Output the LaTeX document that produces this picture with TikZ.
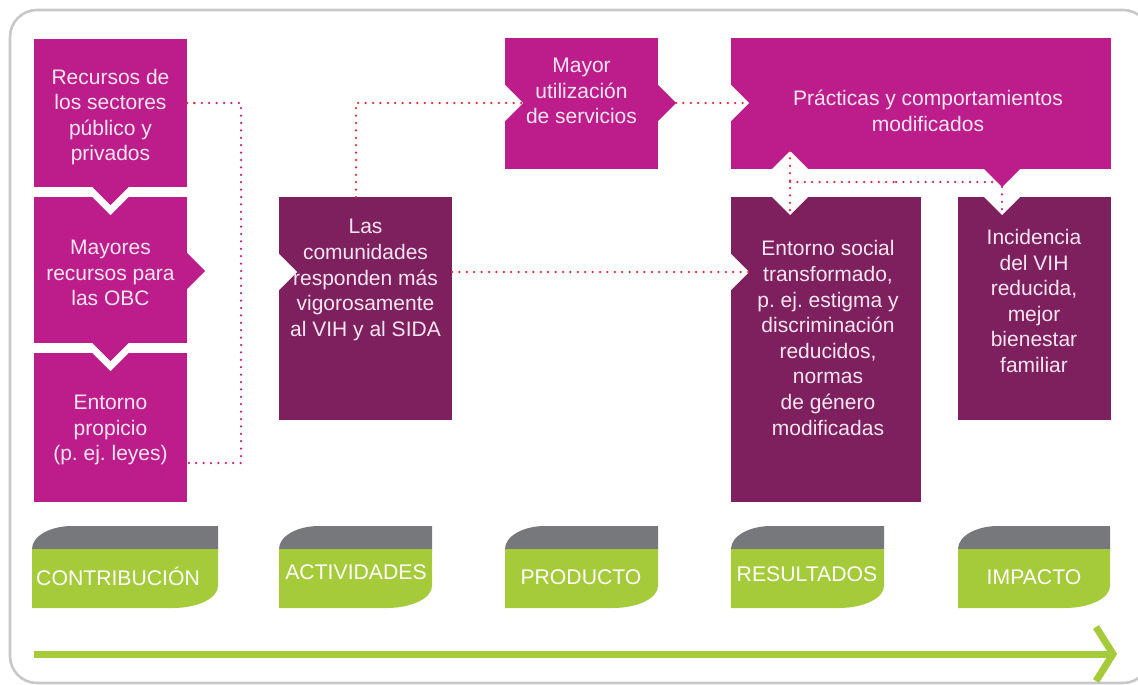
\documentclass[tikz,border=0pt]{standalone}
\usepackage{fontspec}
\usetikzlibrary{calc}
\setmainfont{Liberation Sans}
\frenchspacing
\definecolor{mag}{RGB}{188,29,139}
\definecolor{plum}{RGB}{126,31,94}
\definecolor{lime}{RGB}{166,203,58}
\definecolor{slate}{RGB}{119,120,123}
\definecolor{framec}{RGB}{200,200,200}
\definecolor{dotred}{RGB}{232,36,52}
\definecolor{dotmag}{RGB}{200,30,130}
\definecolor{txt}{RGB}{250,230,242}
\begin{document}
\begin{tikzpicture}[x=1pt,y=-1pt,
  boxm/.style={fill=mag,draw=none,inner sep=0pt,anchor=north west},
  boxp/.style={fill=plum,draw=none,inner sep=0pt,anchor=north west},
  lbl/.style={text=txt,align=center,inner sep=0pt,font=\fontsize{21}{25.6}\selectfont},
  tablbl/.style={text=white,inner sep=0pt,font=\fontsize{21.2}{24}\selectfont},
  dotline/.style={line width=2.5pt,line cap=round,dash pattern=on 0pt off 7.4pt}]
\useasboundingbox (0,0) rectangle (1138,685);

% outer frame
\draw[framec,line width=2.6pt,rounded corners=27pt] (10,10) rectangle (1150,683);

% boxes
\node[boxm,minimum width=153pt,minimum height=148pt] (A) at (34,39) {};
\node[boxm,minimum width=153pt,minimum height=146pt] (B) at (34,197) {};
\node[boxm,minimum width=153pt,minimum height=149pt] (C) at (34,353) {};
\node[boxp,minimum width=173pt,minimum height=223pt] (D) at (279,197) {};
\node[boxm,minimum width=153pt,minimum height=131pt] (E) at (505,38) {};
\node[boxm,minimum width=380pt,minimum height=131pt] (F) at (731,38) {};
\node[boxp,minimum width=190pt,minimum height=305pt] (G) at (731,197) {};
\node[boxp,minimum width=153pt,minimum height=223pt] (H) at (958,197) {};

% notches cut into the boxes
\fill[white] (92.5,197) -- (110.5,215) -- (128.5,197) -- cycle;
\fill[white] (92.5,353) -- (110.5,371) -- (128.5,353) -- cycle;
\fill[white] (279,254) -- (297,272) -- (279,290) -- cycle;
\fill[white] (505,85) -- (523,103) -- (505,121) -- cycle;
\fill[white] (731,85) -- (749,103) -- (731,121) -- cycle;
\fill[white] (772,169) -- (790,151) -- (808,169) -- cycle;
\fill[white] (772,197) -- (790,215) -- (808,197) -- cycle;
\fill[white] (731,254) -- (749,272) -- (731,290) -- cycle;
\fill[white] (984,197) -- (1002,215) -- (1020,197) -- cycle;

% pointers
\fill[mag] (92.5,187) -- (110.5,205) -- (128.5,187) -- cycle;
\fill[mag] (92.5,343) -- (110.5,361) -- (128.5,343) -- cycle;
\fill[mag] (187,253) -- (205,271) -- (187,289) -- cycle;
\fill[mag] (658,85) -- (676,103) -- (658,121) -- cycle;
\fill[mag] (984,169) -- (1002,187) -- (1020,169) -- cycle;

% connector points
\coordinate (a1) at (187,103);
\coordinate (a2) at (241,103);
\coordinate (a3) at (241,463);
\coordinate (a4) at (187,463);
\coordinate (d1) at (356,197);
\coordinate (d2) at (356,103);
\coordinate (e1) at (523,103);
\coordinate (e2) at (676,103);
\coordinate (f1) at (749,103);
\coordinate (d3) at (452,272);
\coordinate (g1) at (749,272);
\coordinate (f2) at (790,151);
\coordinate (g2) at (790,215);
\coordinate (m1) at (790,182);
\coordinate (m2) at (896,182);
\coordinate (m3) at (1002,182);
\coordinate (f3) at (1002,187);
\coordinate (h1) at (1002,215);

% dotted connectors
\draw[dotline,dotmag] (a1) -- (a2) -- (a3) -- (a4);
\draw[dotline,dotred] (a1) -- ($(a1)!0.2!(a2)$);
\draw[dotline,dotred] (d1) -- (d2) -- (e1);
\draw[dotline,dotred] (e2) -- (f1);
\draw[dotline,dotred] (d3) -- (g1);
\draw[dotline,dotred] (f2) -- (g2);
\draw[dotline,dotred] (m1) -- (m2);
\draw[dotline,dotmag] (m2) -- (m3);
\draw[dotline,dotmag] (f3) -- (h1);

% box texts
\node[lbl] (tA) at (110.5,117) {Recursos de\\los sectores\\público y\\privados};
\node[lbl] (tB) at (110.5,273) {Mayores\\recursos para\\las OBC};
\node[lbl] (tC) at (110.5,430) {Entorno\\propicio\\(p. ej. leyes)};
\node[lbl] (tD) at (365.5,280) {Las\\comunidades\\responden más\\vigorosamente\\al VIH y al SIDA};
\node[lbl] (tE) at (581.5,91) {Mayor\\utilización\\de servicios};
\node[lbl] (tF) at (928,111) {Prácticas y comportamientos\\modificados};
\node[lbl] (tG) at (828,338) {Entorno social\\transformado,\\p. ej. estigma y\\discriminación\\reducidos,\\normas\\de género\\modificadas};
\node[lbl] (tH) at (1034,301) {Incidencia\\del VIH\\reducida,\\mejor\\bienestar\\familiar};

% stage tabs: grey cap with a rounded top-left corner, green body with a rounded bottom-right corner
\foreach \xa/\xb in {32/218,279/432,505/658,731/884,958/1110}{
  \fill[slate] (\xa,550) -- (\xa,549) .. controls (\xa,536.3) and (\xa+17.9,526) .. (\xa+40,526) -- (\xb,526) -- (\xb,550) -- cycle;
  \fill[lime] (\xa,549) -- (\xb,549) -- (\xb,586) .. controls (\xb,598.1) and (\xb-20.2,608) .. (\xb-45,608) -- (\xa,608) -- cycle;
}
\node[tablbl,anchor=west] (s1) at (36,576) {CONTRIBUCIÓN};
\node[tablbl] (s2) at (356,572) {ACTIVIDADES};
\node[tablbl] (s3) at (581,577) {PRODUCTO};
\node[tablbl] (s4) at (807,574) {RESULTADOS};
\node[tablbl] (s5) at (1034,577) {IMPACTO};

% time axis
\coordinate (t0) at (34,654);
\coordinate (t1) at (1113,654);
\draw[lime,line width=7pt] (t0) -- (t1);
\draw[lime,line width=7pt,miter limit=10] (1096,627) -- (t1) -- (1096,681);
\end{tikzpicture}
\end{document}
